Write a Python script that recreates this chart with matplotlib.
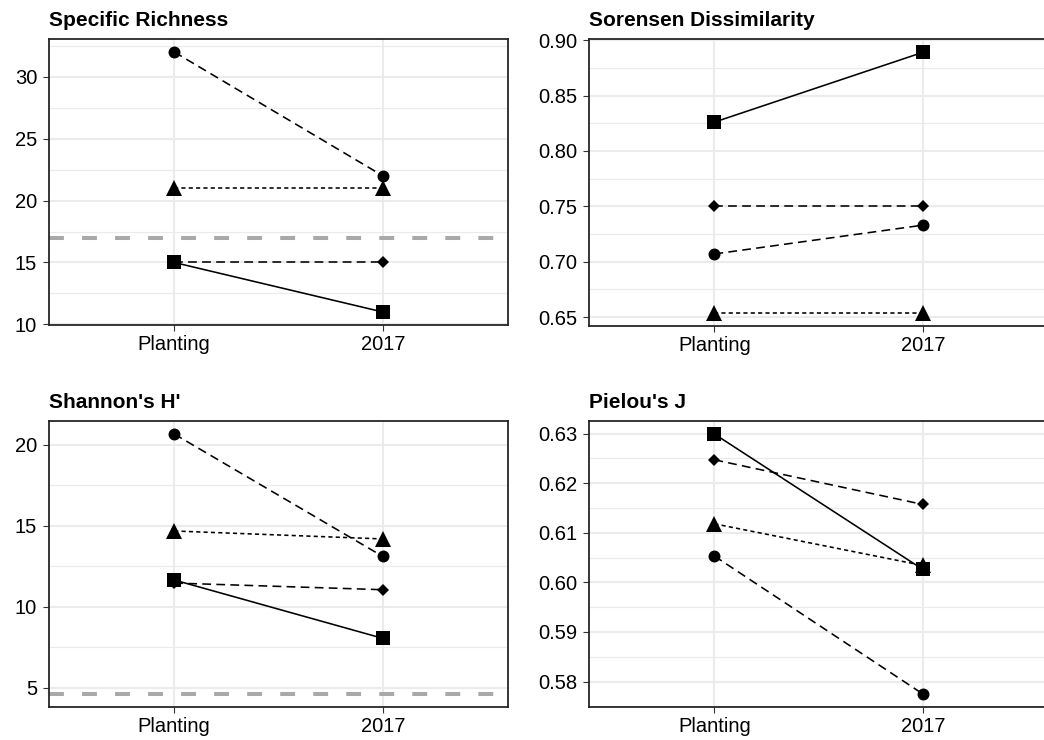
import matplotlib
matplotlib.use("Agg")
import matplotlib.pyplot as plt
from matplotlib.ticker import FormatStrFormatter

plt.rcParams['font.family'] = ['Liberation Sans', 'DejaVu Sans']

periods = ["Planting", "2017"]

# Specific richness
richness_ci = [32, 22]
richness_tr = [21, 21]
richness_di = [15, 15]
richness_sq = [15, 11]
richness_ref = 17

# Sorensen dissimilarity
sorensen_sq = [0.826, 0.889]
sorensen_di = [0.750, 0.750]
sorensen_ci = [0.707, 0.733]
sorensen_tr = [0.654, 0.654]

# Shannon's H'
shannon_ci = [20.66, 13.11]
shannon_tr = [14.68, 14.19]
shannon_sq = [11.66, 8.06]
shannon_di = [11.47, 11.06]
shannon_ref = 4.63

# Pielou's J
pielou_sq = [0.6299, 0.6026]
pielou_di = [0.6247, 0.6157]
pielou_tr = [0.6118, 0.6034]
pielou_ci = [0.6053, 0.5775]

# marker, size, line dashes (None = solid)
styles = {
    "ci": ("o", 8.6, (5.5, 3.3)),
    "di": ("D", 5.8, (5.5, 3.3)),
    "tr": ("^", 11.5, (2.6, 2.0)),
    "sq": ("s", 10.0, None),
}

W, H = 1044, 740
fig = plt.figure(figsize=(W / 100, H / 100), dpi=100)


def panel(rect, title, series, ref, major, minor, fmt=None):
    l, t, r, b = rect
    ax = fig.add_axes([l / W, (H - b) / H, (r - l) / W, (b - t) / H])

    # lines first, then points on top
    for key, vals in series:
        mk, ms, dash = styles[key]
        line, = ax.plot(periods, vals, color="black", lw=1.15, zorder=3)
        if dash is not None:
            line.set_dashes(dash)
    for key, vals in series:
        mk, ms, dash = styles[key]
        ax.plot(periods, vals, ls="none", marker=mk, ms=ms, color="black",
                mew=0, zorder=4)

    allv = [v for _, vals in series for v in vals]
    if ref is not None:
        allv.append(ref)
        hl = ax.axhline(ref, color="#A9A9A9", lw=2.9, zorder=2)
        hl.set_dashes((3.7, 4.5))
        hl.set_dash_capstyle("butt")
    lo, hi = min(allv), max(allv)
    pad = 0.05 * (hi - lo)
    ax.set_ylim(lo - pad, hi + pad)
    ax.set_xlim(-0.6, 1.6)

    ax.set_yticks(major)
    ax.set_yticks(minor, minor=True)
    if fmt:
        ax.yaxis.set_major_formatter(FormatStrFormatter(fmt))
    ax.set_axisbelow(True)
    ax.grid(which="major", color="#EBEBEB", lw=1.5)
    ax.grid(which="minor", axis="y", color="#EBEBEB", lw=0.8)
    ax.tick_params(which="major", length=4.5, width=0.8, color="#333333",
                   labelsize=14.5, labelcolor="black")
    ax.tick_params(axis="y", pad=4)
    ax.tick_params(axis="x", pad=3)
    ax.tick_params(which="minor", length=0)
    for s in ax.spines.values():
        s.set_color("#262626")
        s.set_linewidth(1.3)
    ax.set_title(title, loc="left", fontsize=15, fontweight="bold", pad=9.5)
    return ax


panel((49, 39, 508, 325), "Specific Richness",
      [("ci", richness_ci), ("di", richness_di), ("tr", richness_tr), ("sq", richness_sq)],
      richness_ref, [10, 15, 20, 25, 30], [12.5, 17.5, 22.5, 27.5, 32.5])

panel((589.3, 39.3, 1048, 325.7), "Sorensen Dissimilarity",
      [("ci", sorensen_ci), ("di", sorensen_di), ("tr", sorensen_tr), ("sq", sorensen_sq)],
      None, [0.65, 0.70, 0.75, 0.80, 0.85, 0.90],
      [0.675, 0.725, 0.775, 0.825, 0.875], "%.2f")

panel((49, 421, 508, 707), "Shannon's H'",
      [("ci", shannon_ci), ("di", shannon_di), ("tr", shannon_tr), ("sq", shannon_sq)],
      shannon_ref, [5, 10, 15, 20], [7.5, 12.5, 17.5])

panel((589.3, 421, 1048, 707), "Pielou's J",
      [("ci", pielou_ci), ("di", pielou_di), ("tr", pielou_tr), ("sq", pielou_sq)],
      None, [0.58, 0.59, 0.60, 0.61, 0.62, 0.63],
      [0.575, 0.585, 0.595, 0.605, 0.615, 0.625], "%.2f")

fig.savefig("out.png", dpi=100)
